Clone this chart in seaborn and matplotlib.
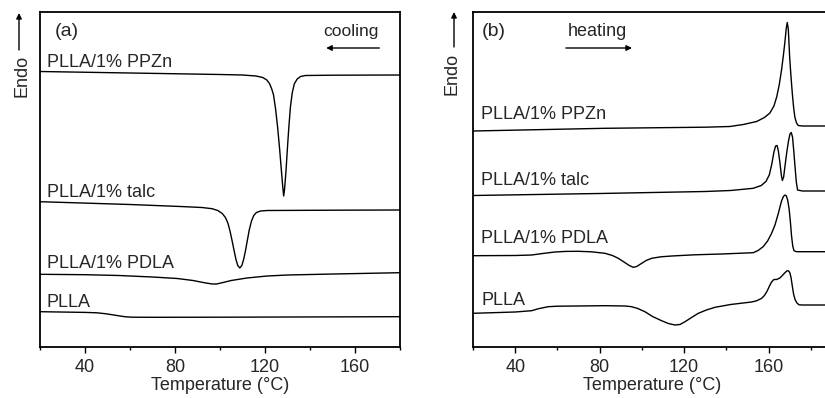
import matplotlib
matplotlib.use("Agg")
import matplotlib.pyplot as plt
import seaborn as sns
import pandas as pd

# ---- DSC traces (temperature in degC, heat flow in arbitrary offset units) ----
# (a) cooling scans
cool_pplazn_T = [20, 60, 100, 110, 116, 119, 120.8, 122, 123, 123.8, 124.7, 125.6, 126.5, 127.3, 127.9, 128.3,
                 128.7, 129.3, 130, 130.6, 131.3, 132.1, 133, 134.3, 135.8, 138, 150, 180]
cool_pplazn_v = [275.5, 274, 272.5, 272, 271, 269.5, 267, 263.5, 258, 252, 238, 220, 198, 176, 160, 151,
                 158, 175, 200, 220, 240, 254, 263, 268, 270.5, 271.5, 271.8, 272]

cool_talc_T = [20, 60, 82.4, 92, 96.5, 99, 101, 102.4, 103.5, 104.5, 105.4, 106.3, 107.1, 107.9, 108.8,
               109.7, 110.5, 111.3, 112.1, 113, 114, 115, 116.2, 118, 121, 150, 180]
cool_talc_v = [145.3, 142.5, 140.5, 139.5, 138.3, 136.5, 133.5, 129.5, 124, 115.5, 106, 96, 87.5, 81.5, 79,
               81.5, 87.5, 96, 106, 117, 126, 131.5, 134.5, 136, 136.5, 136.8, 137]

cool_pdla_T = [20, 40, 55, 70, 81, 88, 93, 96.5, 98.5, 101, 105, 112, 121, 130, 150.6, 180]
cool_pdla_v = [72.7, 72.3, 71.5, 70, 68.5, 66.5, 64.3, 63, 63, 64.3, 66.5, 69, 71, 72, 73, 74.3]

cool_plla_T = [20, 40, 45.3, 49, 52, 55, 58, 61, 70, 100, 180]
cool_plla_v = [35.3, 34.6, 34.2, 33.3, 32.3, 31.2, 30.2, 29.8, 29.7, 29.8, 30.3]

# (b) heating scans
heat_pplazn_T = [20, 82.5, 130, 141.6, 148, 154.3, 158, 160.6, 162.5, 163.8, 165, 166.1, 167, 167.7, 168.3,
                 168.8, 169.3, 170, 170.6, 171.2, 171.8, 172.4, 173.2, 174, 176, 190]
heat_pplazn_v = [216, 218.7, 219.8, 220.5, 222.5, 225.5, 229.5, 234, 241, 250, 262, 277, 292, 305, 318,
                 324.5, 318, 288, 270, 253.7, 240, 230, 224, 221.5, 221, 221]

heat_talc_T = [20, 80, 130, 142, 152.7, 156.5, 158.7, 160.3, 161.5, 162.5, 163.3, 164, 164.6, 165.3, 166, 166.5,
               167.1, 167.8, 168.6, 169.4, 170.1, 170.7, 171.3, 171.9, 172.5, 173.1, 173.7, 176, 190]
heat_talc_v = [151.5, 153.5, 155.5, 156.5, 158.7, 161.5, 165.5, 172, 183, 195, 201, 201.5, 196, 185, 172, 166.5,
               170, 182, 195, 206, 213, 214.5, 210, 196, 180, 165, 157, 156, 156]

heat_pdla_T = [20, 40, 47.8, 53, 58.8, 64, 69.9, 76, 82.5, 86, 88.8, 91.5, 94, 95.9, 97.5, 99.9, 102, 104.6, 109,
               114.1, 125, 137.7, 147, 152.7, 155, 157.4, 159.5, 161.4, 163, 164.6, 166.1, 167, 167.7,
               168.4, 169, 169.7, 170.3, 170.8, 171.4, 172, 173.2, 176, 190]
heat_pdla_v = [91.3, 91.5, 92, 93.5, 95, 95.6, 95.7, 95.2, 93.7, 91.5, 88.7, 85, 81.5, 79.7, 80.5, 83.7, 86.5,
               88.7, 90.2, 91, 92.2, 93, 93.8, 94.3, 96.5, 100.3, 106, 113.7, 122, 133.7, 146, 150.5, 152,
               151, 147, 138, 125, 112, 101, 96.3, 95.3, 95.3, 95.3]

heat_plla_T = [20, 40, 47.8, 51, 55.6, 60, 82.5, 92, 95.1, 98, 101.4, 105, 109.3, 112.5, 115.6, 118, 120.4, 123.5,
               126.7, 130.5, 134.6, 142, 151.9, 154.3, 156.7, 158, 159.3, 160.5, 161.4, 162.5, 163.8, 165.3,
               166.5, 167.7, 168.6, 169.3, 170, 170.6, 171.2, 171.8, 172.5, 173.4, 174.4, 176, 190]
heat_plla_v = [33.7, 35, 36.3, 38.3, 40.3, 40.8, 41.3, 41, 40.3, 38.5, 35.3, 30.5, 26.3, 23.5, 22, 22.5, 25.3,
               29.5, 33.7, 37, 39.7, 42.5, 45, 46.2, 48.7, 51.5, 56, 61.5, 65, 67.5, 67.5, 69, 71.5, 74.3, 76,
               76.3, 74.5, 69.5, 61, 53, 47.5, 44, 42.2, 42, 42]

sample_names = ["PLLA/1% PPZn", "PLLA/1% talc", "PLLA/1% PDLA", "PLLA"]

cooling = [(cool_pplazn_T, cool_pplazn_v), (cool_talc_T, cool_talc_v),
           (cool_pdla_T, cool_pdla_v), (cool_plla_T, cool_plla_v)]
heating = [(heat_pplazn_T, heat_pplazn_v), (heat_talc_T, heat_talc_v),
           (heat_pdla_T, heat_pdla_v), (heat_plla_T, heat_plla_v)]

# label anchor heights (same units as the traces)
cool_label_y = [280, 150, 79, 40]
heat_label_y = [228, 162, 104, 42]

sns.set_theme(style="ticks")
plt.rcParams["font.family"] = ["Liberation Sans", "DejaVu Sans"]
plt.rcParams["axes.linewidth"] = 1.3

fig = plt.figure(figsize=(8.25, 3.98), dpi=100)
W, H = 825, 398
ax_a = fig.add_axes([40 / W, (H - 347) / H, 360 / W, 335 / H])
ax_b = fig.add_axes([473 / W, (H - 347) / H, 359 / W, 335 / H])


def draw_panel(ax, traces, label_y, xmax, label_x):
    for name, (T, v) in zip(sample_names, traces):
        df = pd.DataFrame({"Temperature": T, "Heat flow": v})
        sns.lineplot(data=df, x="Temperature", y="Heat flow", ax=ax, color="black",
                     linewidth=1.0, sort=False, estimator=None)
    for name, y in zip(sample_names, label_y):
        ax.text(label_x, y, name, fontsize=13, va="baseline", ha="left")
    ax.set_xlim(20, xmax)
    ax.set_ylim(0, 335)
    ax.set_yticks([])
    ax.set_ylabel("")
    ax.set_xticks([40, 80, 120, 160])
    ax.set_xticks([20, 60, 100, 140, 180], minor=True)
    ax.tick_params(axis="x", which="major", direction="out", length=4.5, width=1.0,
                   labelsize=13, pad=4, color="black")
    ax.tick_params(axis="x", which="minor", direction="out", length=2.5, width=1.0,
                   color="black")
    ax.set_xlabel("Temperature (°C)", fontsize=13, labelpad=1)
    for s in ax.spines.values():
        s.set_visible(True)
        s.set_color("black")


draw_panel(ax_a, cooling, cool_label_y, 180, 23.1)
draw_panel(ax_b, heating, heat_label_y, 190, 23.8)

ax_a.text(26.5, 311, "(a)", fontsize=14, va="baseline")
ax_a.text(170.6, 311, "cooling", fontsize=12.5, va="baseline", ha="right")
ax_a.annotate("", xy=(147.2, 299), xytext=(170.8, 299),
              arrowprops=dict(arrowstyle="-|>", color="black", lw=1.0,
                              mutation_scale=8, shrinkA=0, shrinkB=0))

ax_b.text(24.3, 311, "(b)", fontsize=14, va="baseline")
ax_b.text(65, 311, "heating", fontsize=13, va="baseline", ha="left")
ax_b.annotate("", xy=(95.3, 299), xytext=(64, 299),
              arrowprops=dict(arrowstyle="-|>", color="black", lw=1.0,
                              mutation_scale=8, shrinkA=0, shrinkB=0))

# "Endo" direction labels on the left of each panel
for xc, yc, arrow_x, y_tail, y_head in [(21.5, 76, 19, 50, 13), (452.5, 74, 454, 47, 12)]:
    fig.text(xc / W, 1 - yc / H, "Endo", rotation=90, fontsize=13,
             ha="center", va="center")
    fig.add_artist(matplotlib.patches.FancyArrowPatch(
        (arrow_x / W, 1 - y_tail / H), (arrow_x / W, 1 - y_head / H),
        transform=fig.transFigure, arrowstyle="-|>", mutation_scale=8,
        color="black", lw=1.0, shrinkA=0, shrinkB=0))

fig.savefig("out.png", dpi=100)
